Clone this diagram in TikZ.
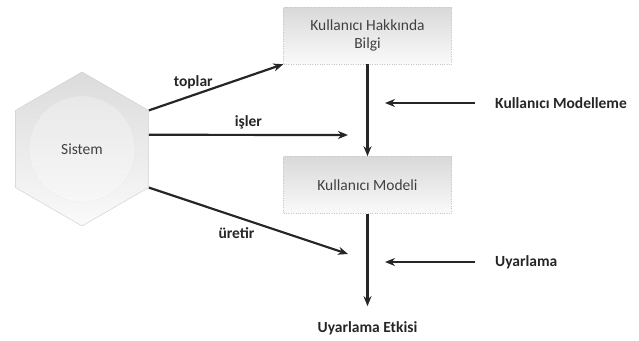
\documentclass[tikz,border=0pt]{standalone}
\usepackage{fontspec}
\setmainfont{Carlito}
\usetikzlibrary{positioning,shapes.geometric,arrows.meta}

\begin{document}
\begin{tikzpicture}[
    x=1pt, y=-1pt,
    every node/.style={font=\fontsize{15.5}{18}\selectfont},
    arr/.style={-{Stealth[length=10pt,width=8pt]}, line width=2.2pt, draw=black!85}, % dark connectors
    box/.style={rectangle, minimum width=168pt, minimum height=57pt, draw=black!22, dotted,
        top color=black!15, bottom color=black!2, text=black!75, align=center, inner sep=2pt},
    lbl/.style={font=\fontsize{15.5}{18}\selectfont\bfseries, text=black!85, inner sep=2pt}
]
    \useasboundingbox (0,0) rectangle (639,340);

    % --- SYSTEM (hexagon with circle) ---
    \node[regular polygon, regular polygon sides=6, shape border rotate=30, minimum size=154pt,
        inner sep=0pt, draw=black!20, top color=black!14, bottom color=black!2] (sistem) at (82,149) {};
    \node[circle, minimum size=106pt, draw=black!18, dotted, top color=black!9, bottom color=black!3,
        text=black!75] (cekirdek) at (sistem.center) {Sistem};

    % --- BOXES ---
    \node[box] (hakkinda) at (367.5,35.5) {Kullanıcı Hakkında\\Bilgi};
    \node[box, below=92pt of hakkinda] (model) {Kullanıcı Modeli};
    \node[lbl] (etki) at (367.5,328) {Uyarlama Etkisi};

    % --- right hand labels ---
    \node[lbl, anchor=west] (modelleme) at (493,103) {Kullanıcı Modelleme};
    \node[lbl, anchor=west] (uyarlama) at (493,262) {Uyarlama};

    % free ends
    \coordinate (i1) at (348,135);
    \coordinate (r1) at (348,254);
    \coordinate (m1) at (385,103);
    \coordinate (u1) at (385,262);

    % --- CONNECTORS ---
    \draw[arr] (sistem.30) -- node[lbl, above=3pt, pos=0.33] {toplar} (hakkinda.south west);
    \draw[arr] (sistem.12) -- node[lbl, above=3pt, pos=0.5] {işler} (i1);
    \draw[arr] (sistem.-30) -- node[lbl, below=8pt, pos=0.44] {üretir} (r1);

    \draw[arr] (hakkinda) -- (model);
    \draw[arr, shorten >=13pt] (model) -- (etki);

    \draw[arr, shorten <=18pt] (modelleme.west) -- (m1);
    \draw[arr, shorten <=18pt] (uyarlama.west) -- (u1);

\end{tikzpicture}
\end{document}
